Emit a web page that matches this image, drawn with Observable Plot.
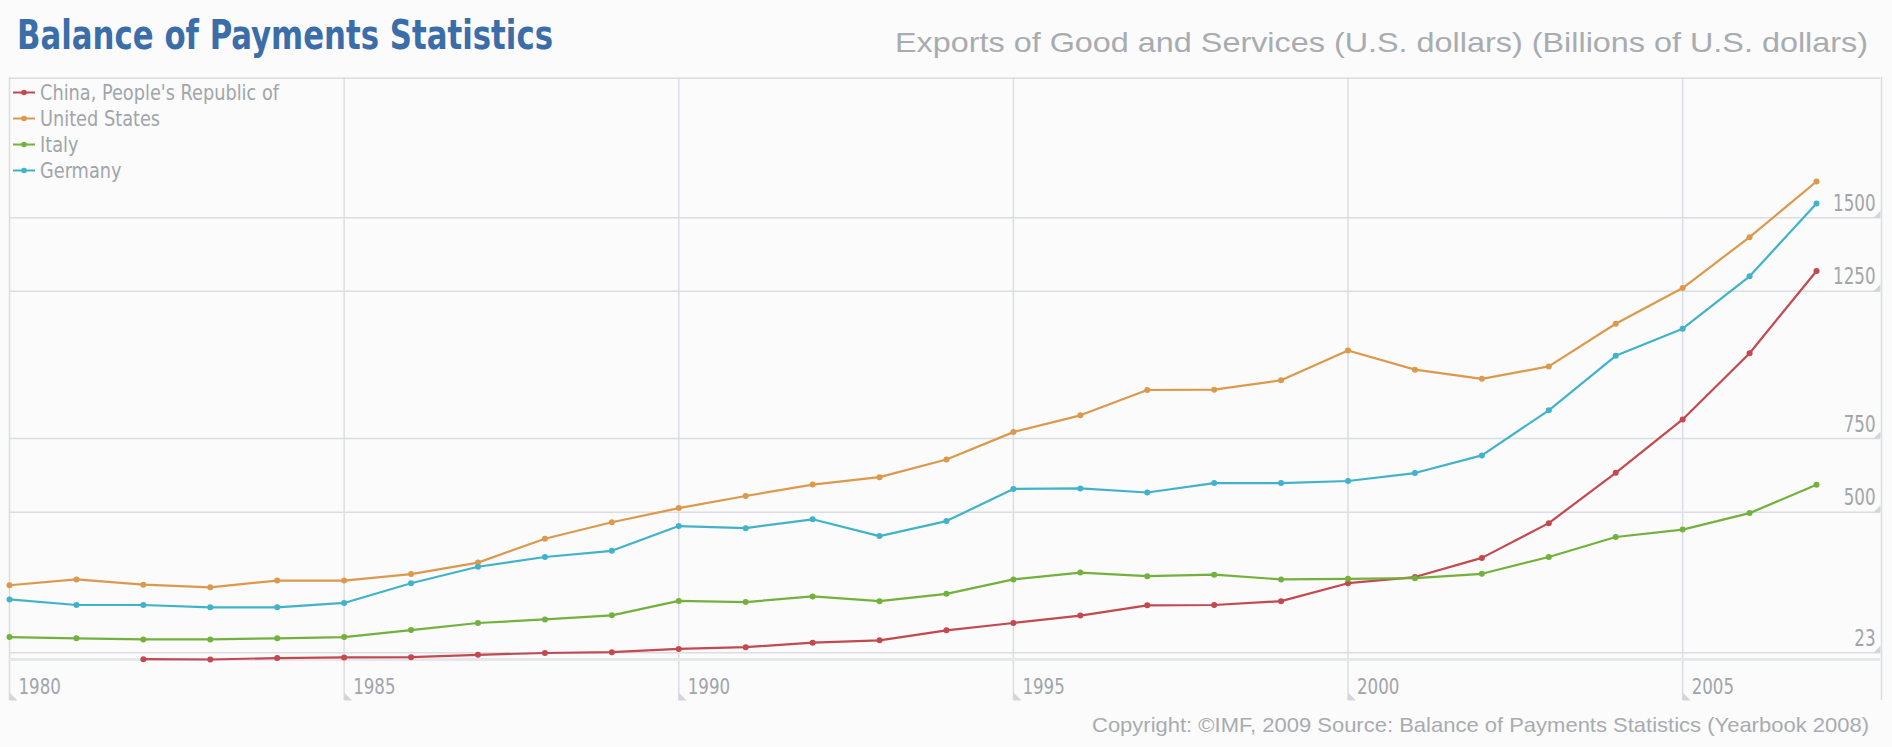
<!DOCTYPE html>
<html><head><meta charset="utf-8">
<script src="https://cdn.jsdelivr.net/npm/d3@7"></script>
<script src="https://cdn.jsdelivr.net/npm/@observablehq/plot@0.6"></script>
<style>
html,body{margin:0;padding:0;background:#fafbfa;}
#wrap{position:relative;width:1892px;height:747px;overflow:hidden;background:#fafbfa;}
#chart{position:absolute;left:0;top:77px;}
#overlay{position:absolute;left:0;top:0;pointer-events:none;}
</style></head><body><div id="wrap"><div id="chart"></div></div>
<script>
// ---- data ----
const years = [1980,1981,1982,1983,1984,1985,1986,1987,1988,1989,1990,1991,1992,1993,1994,1995,1996,1997,1998,1999,2000,2001,2002,2003,2004,2005,2006,2007];
const seriesNames = ["China, People's Republic of", "United States", "Italy", "Germany"];
const seriesColors = ["#c4484f", "#dc994c", "#73b13d", "#40b3cb"];
const china   = [null, null, 1, 0, 5, 7, 8, 16, 22, 25, 36, 42, 57, 65, 99, 124, 149, 184, 185, 198, 259, 280, 345, 463, 634, 815, 1040, 1319];
const us      = [252, 272, 254, 245, 268, 268, 290, 329, 410, 466, 514, 555, 594, 619, 679, 772, 829, 915, 916, 948, 1049, 984, 953, 995, 1140, 1261, 1434, 1623];
const italy   = [76, 72, 68, 68, 72, 76, 100, 124, 136, 150, 199, 195, 214, 198, 223, 272, 295, 283, 288, 272, 274, 276, 291, 348, 416, 441, 497, 593];
const germany = [204, 185, 185, 177, 177, 192, 259, 315, 348, 369, 453, 446, 476, 419, 470, 579, 581, 567, 599, 599, 606, 633, 693, 846, 1031, 1123, 1301, 1548];
const xTicks = [1980, 1985, 1990, 1995, 2000, 2005];
const yTicks = [23, 500, 750, 1250, 1500];
const titleText = "Balance of Payments Statistics";
const subtitleText = "Exports of Good and Services (U.S. dollars) (Billions of U.S. dollars)";
const footerText = "Copyright: \u00A9IMF, 2009 Source: Balance of Payments Statistics (Yearbook 2008)";

const seriesValues = [china, us, italy, germany];
const rows = [];
seriesNames.forEach((name, si) => {
  seriesValues[si].forEach((v, i) => { if (v != null) rows.push({country: name, year: years[i], value: v}); });
});

// ---- fonts ----
function hasFont(name){
  const c = document.createElement("canvas").getContext("2d");
  const t = "abcdefghijklmnopqrstuvwxyzABCDEFGHIJ0123456789";
  c.font = "40px monospace"; const w1 = c.measureText(t).width;
  c.font = `40px "${name}", monospace`; const w2 = c.measureText(t).width;
  return Math.abs(w1 - w2) > 0.5;
}
const narrow = hasFont("Liberation Sans Narrow") ? '"Liberation Sans Narrow", sans-serif'
  : hasFont("DejaVu Sans Condensed") ? '"DejaVu Sans Condensed", sans-serif' : 'Roboto, sans-serif';
const regular = '"Liberation Sans", Arial, Helvetica, sans-serif';

// ---- style ----
const gridColor = "#dcdde2";
const triColor = "#d3d5da";
const textColor = "#a1a5aa";
const W = 1892, H = 633;
const yMax = 1976;

const triRight = {draw(ctx){ ctx.moveTo(0,0); ctx.lineTo(0,-7); ctx.lineTo(-7,0); ctx.closePath(); }};
const triLeft  = {draw(ctx){ ctx.moveTo(0,0); ctx.lineTo(0,-8); ctx.lineTo(8,0); ctx.closePath(); }};

const plot = Plot.plot({
  width: W, height: H,
  marginTop: 0, marginBottom: 51, marginLeft: 9, marginRight: 76,
  style: {background: "transparent", overflow: "visible"},
  x: {domain: [1980, 2007], axis: null},
  y: {domain: [0, yMax], axis: null},
  color: {domain: seriesNames, range: seriesColors},
  marks: [
    Plot.ruleY([yMax], {stroke: gridColor, strokeWidth: 1.5, insetRight: -64, dy: 0.75}),
    Plot.ruleX(xTicks, {stroke: gridColor, strokeWidth: 1.5, insetBottom: -41}),
    Plot.ruleX([2007], {dx: 65, stroke: gridColor, strokeWidth: 1.5, insetBottom: -41}),
    Plot.ruleY(yTicks, {stroke: gridColor, strokeWidth: 1.5, insetRight: -64}),
    Plot.ruleY([0], {stroke: "#e6e7ea", strokeWidth: 3, insetRight: -64}),
    Plot.dot(yTicks, {y: d => d, frameAnchor: "right", dx: 64, symbol: triRight, fill: triColor, stroke: null}),
    Plot.dot(xTicks, {x: d => d, frameAnchor: "bottom", dy: 41, symbol: triLeft, fill: triColor, stroke: null}),
    Plot.text(yTicks, {y: d => d, frameAnchor: "right", text: d => String(d), dx: 59, dy: -7,
      textAnchor: "end", lineAnchor: "bottom", fill: textColor, fontSize: 23, fontFamily: narrow}),
    Plot.text(xTicks, {x: d => d, frameAnchor: "bottom", text: d => String(d), dx: 9, dy: 34,
      textAnchor: "start", lineAnchor: "bottom", fill: textColor, fontSize: 22, fontFamily: narrow}),
    Plot.line(rows, {x: "year", y: "value", z: "country", stroke: "country", strokeWidth: 2.2}),
    Plot.dot(rows, {x: "year", y: "value", fill: "country", r: 3, stroke: null})
  ]
});
document.getElementById("chart").appendChild(plot);
// condense tick label glyphs
d3.select(plot).selectAll("text").each(function(){
  const t = this.textContent;
  d3.select(this).attr("textLength", t.length * 10.6).attr("lengthAdjust", "spacingAndGlyphs");
});

// ---- header, legend, footer ----
const ov = d3.select("#wrap").append("svg").attr("id", "overlay").attr("width", W).attr("height", 747);
ov.append("text").attr("x", 17).attr("y", 49).text(titleText)
  .attr("font-family", narrow).attr("font-weight", "bold").attr("font-size", 40).attr("fill", "#3b6ea9")
  .attr("textLength", 536).attr("lengthAdjust", "spacingAndGlyphs");
ov.append("text").attr("x", 1868).attr("y", 52).text(subtitleText).attr("text-anchor", "end")
  .attr("font-family", regular).attr("font-size", 28).attr("fill", "#a8acb0")
  .attr("textLength", 973).attr("lengthAdjust", "spacingAndGlyphs");
ov.append("text").attr("x", 1869).attr("y", 732).text(footerText).attr("text-anchor", "end")
  .attr("font-family", regular).attr("font-size", 21).attr("fill", "#a8acb0")
  .attr("textLength", 777).attr("lengthAdjust", "spacingAndGlyphs");

const leg = ov.append("g");
const legTexts = [];
seriesNames.forEach((name, i) => {
  const cy = 92.5 + i * 26;
  const g = leg.append("g");
  g.append("line").attr("x1", 13).attr("x2", 35).attr("y1", cy).attr("y2", cy)
    .attr("stroke", seriesColors[i]).attr("stroke-width", 2);
  g.append("circle").attr("cx", 24).attr("cy", cy).attr("r", 2.8).attr("fill", seriesColors[i]);
  legTexts.push(g.append("text").attr("x", 40).attr("y", cy + 7.5).text(name)
    .attr("font-family", narrow).attr("font-size", 21).attr("fill", textColor));
});
const ratio = 239 / legTexts[0].node().getComputedTextLength();
legTexts.forEach(t => {
  const w = t.node().getComputedTextLength();
  t.attr("textLength", w * ratio).attr("lengthAdjust", "spacingAndGlyphs");
});
</script></body></html>
